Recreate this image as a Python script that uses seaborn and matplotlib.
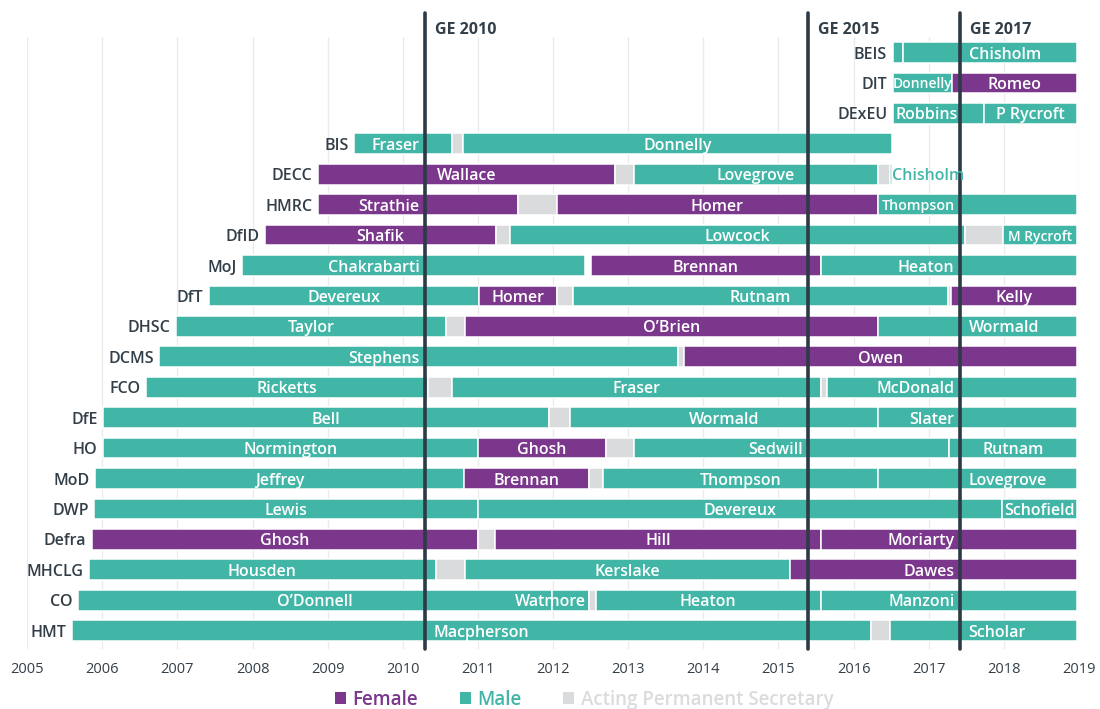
import numpy as np
import pandas as pd
import matplotlib
matplotlib.use("Agg")
import matplotlib.pyplot as plt
import seaborn as sns
from matplotlib.patches import Patch
from matplotlib.transforms import blended_transform_factory

# ---------------- data ----------------
depts = ["BEIS", "DIT", "DExEU", "BIS", "DECC", "HMRC", "DfID", "MoJ", "DfT", "DHSC",
         "DCMS", "FCO", "DfE", "HO", "MoD", "DWP", "Defra", "MHCLG", "CO", "HMT"]

seg_dept = (["BEIS"] * 2 + ["DIT"] * 2 + ["DExEU"] * 2 + ["BIS"] * 3 + ["DECC"] * 5 +
            ["HMRC"] * 4 + ["DfID"] * 5 + ["MoJ"] * 3 + ["DfT"] * 6 + ["DHSC"] * 4 +
            ["DCMS"] * 3 + ["FCO"] * 5 + ["DfE"] * 4 + ["HO"] * 5 + ["MoD"] * 5 +
            ["DWP"] * 3 + ["Defra"] * 4 + ["MHCLG"] * 4 + ["CO"] * 5 + ["HMT"] * 3)

seg_name = ["", "Chisholm",
            "Donnelly", "Romeo",
            "Robbins", "P Rycroft",
            "Fraser", "", "Donnelly",
            "Wallace", "", "Lovegrove", "", "Chisholm",
            "Strathie", "", "Homer", "Thompson",
            "Shafik", "", "Lowcock", "", "M Rycroft",
            "Chakrabarti", "Brennan", "Heaton",
            "Devereux", "Homer", "", "Rutnam", "", "Kelly",
            "Taylor", "", "O\u2019Brien", "Wormald",
            "Stephens", "", "Owen",
            "Ricketts", "", "Fraser", "", "McDonald",
            "Bell", "", "Wormald", "Slater",
            "Normington", "Ghosh", "", "Sedwill", "Rutnam",
            "Jeffrey", "Brennan", "", "Thompson", "Lovegrove",
            "Lewis", "Devereux", "Schofield",
            "Ghosh", "", "Hill", "Moriarty",
            "Housden", "", "Kerslake", "Dawes",
            "O\u2019Donnell", "Watmore", "", "Heaton", "Manzoni",
            "Macpherson", "", "Scholar"]

# F = female, M = male, A = acting permanent secretary
seg_kind = ["M", "M",
            "M", "F",
            "M", "M",
            "M", "A", "M",
            "F", "A", "M", "A", "M",
            "F", "A", "F", "M",
            "F", "A", "M", "A", "M",
            "M", "F", "M",
            "M", "F", "A", "M", "A", "F",
            "M", "A", "F", "M",
            "M", "A", "F",
            "M", "A", "M", "A", "M",
            "M", "A", "M", "M",
            "M", "F", "A", "M", "M",
            "M", "F", "A", "M", "M",
            "M", "M", "M",
            "F", "A", "F", "F",
            "M", "A", "M", "F",
            "M", "M", "A", "M", "M",
            "M", "A", "M"]

seg_start = [2016.52, 2016.66,
             2016.52, 2017.31,
             2016.52, 2017.73,
             2009.35, 2010.66, 2010.80,
             2008.87, 2012.83, 2013.08, 2016.32, 2016.49,
             2008.87, 2011.53, 2012.05, 2016.32,
             2008.17, 2011.24, 2011.43, 2017.48, 2017.99,
             2007.86, 2012.50, 2015.56,
             2007.42, 2011.02, 2012.05, 2012.27, 2017.25, 2017.29,
             2006.98, 2010.57, 2010.83, 2016.32,
             2006.76, 2013.66, 2013.74,
             2006.58, 2010.34, 2010.65, 2015.56, 2015.65,
             2006.01, 2011.95, 2012.22, 2016.33,
             2006.01, 2011.00, 2012.70, 2013.08, 2017.27,
             2005.90, 2010.82, 2012.48, 2012.67, 2016.32,
             2005.89, 2011.00, 2017.98,
             2005.86, 2011.00, 2011.23, 2015.56,
             2005.82, 2010.44, 2010.83, 2015.15,
             2005.68, 2011.99, 2012.48, 2012.57, 2015.56,
             2005.60, 2016.23, 2016.48]

seg_end = [2016.66, 2018.97,
           2017.31, 2018.97,
           2017.73, 2018.97,
           2010.66, 2010.80, 2016.51,
           2012.83, 2013.08, 2016.32, 2016.49, 2016.51,
           2011.53, 2012.05, 2016.32, 2018.97,
           2011.24, 2011.43, 2017.48, 2017.99, 2018.97,
           2012.43, 2015.56, 2018.97,
           2011.02, 2012.05, 2012.27, 2017.25, 2017.29, 2018.97,
           2010.57, 2010.83, 2016.32, 2018.97,
           2013.66, 2013.74, 2018.97,
           2010.34, 2010.65, 2015.56, 2015.65, 2018.97,
           2011.95, 2012.22, 2016.33, 2018.97,
           2011.00, 2012.70, 2013.08, 2017.27, 2018.97,
           2010.82, 2012.48, 2012.67, 2016.32, 2018.97,
           2011.00, 2017.98, 2018.97,
           2011.00, 2011.23, 2015.56, 2018.97,
           2010.44, 2010.83, 2015.15, 2018.97,
           2011.99, 2012.48, 2012.57, 2015.56, 2018.97,
           2016.23, 2016.48, 2018.97]

ge_labels = ["GE 2010", "GE 2015", "GE 2017"]
ge_years = [2010.29, 2015.39, 2017.41]
year_ticks = list(range(2005, 2020))
legend_labels = ["Female", "Male", "Acting Permanent Secretary"]
legend_kinds = ["F", "M", "A"]

# ---------------- styling ----------------
sns.set_theme(style="white")
plt.rcParams['font.family'] = ['Open Sans', 'DejaVu Sans']

PURPLE = "#7B378C"
TEAL = "#41B6A7"
GREY = "#DADBDC"
DARK = "#333F48"
LINE = "#2E3A45"
palette = {"F": PURPLE, "M": TEAL, "A": GREY}

small_labels = {("DIT", "Donnelly"): 10, ("DfID", "M Rycroft"): 10, ("HMRC", "Thompson"): 10.3}
side_override = {("HMRC", "Thompson"): "left", ("DfE", "Slater"): "left"}
LABEL_FS = 11.5
LABEL_WEIGHT = "semibold"

df = pd.DataFrame({"dept": seg_dept, "name": seg_name, "kind": seg_kind,
                   "start": seg_start, "end": seg_end})
df["row"] = df["dept"].map({d: i for i, d in enumerate(depts)})
df["dur"] = df["end"] - df["start"]

W, H = 1100, 709
fig = plt.figure(figsize=(W / 100, H / 100), dpi=100)
ax = fig.add_axes([27.2 / W, 1 - 649.4 / H, (1079 - 27.2) / W, 612.4 / H])

ax.barh(df["row"], df["dur"], left=df["start"], height=0.68,
        color=df["kind"].map(palette), edgecolor="white", linewidth=1.1, zorder=3)

ax.set_xlim(2005, 2019)
ax.set_ylim(19.615, -0.51)
ax.set_xticks(year_ticks)
ax.set_xticklabels([str(y) for y in year_ticks])
ax.set_yticks([])
ax.grid(axis="x", color="#EBEBEB", linewidth=1, zorder=0)
ax.grid(axis="y", visible=False)
ax.set_axisbelow(True)
for s in ax.spines.values():
    s.set_visible(False)
ax.tick_params(axis="x", length=0, pad=9, labelsize=10.5, labelcolor=DARK)

# general election lines
fig_tr = blended_transform_factory(ax.transData, fig.transFigure)
ppy = ax.bbox.width / (2019 - 2005)
for g, lab in zip(ge_years, ge_labels):
    ax.axvline(g, ymin=0.0, ymax=1.039, color=LINE, lw=2.6, clip_on=False, zorder=5)
    ax.text(g + 10 / ppy, 1 - 28 / H, lab, transform=fig_tr, ha="left", va="center_baseline",
            fontsize=11.5, fontweight="bold", color=DARK)

# department labels
for d, grp in df.groupby("dept", sort=False):
    first = grp["start"].min()
    ax.annotate(d, xy=(first, grp["row"].iloc[0]), xytext=(-4, 0),
                textcoords="offset points", ha="right", va="center_baseline",
                fontsize=11.5, fontweight="semibold", color=DARK)

# name labels inside bars
fig.canvas.draw()
renderer = fig.canvas.get_renderer()


def text_w(s, fs):
    t = ax.text(0, 0, s, fontsize=fs, fontweight=LABEL_WEIGHT)
    w = t.get_window_extent(renderer).width / ppy
    t.remove()
    return w


edge = 3 / ppy
pad_left = 5 / ppy
pad_right = 9 / ppy
for d, grp in df.groupby("dept", sort=False):
    grp = grp.sort_values("start")
    last_idx = grp.index[-1]
    for idx, r in grp.iterrows():
        if not r["name"]:
            continue
        fs = small_labels.get((d, r["name"]), LABEL_FS)
        w = text_w(r["name"], fs)
        segw = r["end"] - r["start"]
        if w > segw + 2 / ppy:
            if idx == last_idx and r["end"] < 2018.5:
                ax.text(r["start"] + 2 / ppy, r["row"], r["name"], ha="left",
                        va="center_baseline", fontsize=fs, fontweight=LABEL_WEIGHT,
                        color=palette[r["kind"]], zorder=6)
                continue
            cx = r["end"] - edge - w / 2
        else:
            cx = (r["start"] + r["end"]) / 2
            for g in ge_years:
                if cx - w / 2 - pad_left < g < cx + w / 2 + pad_left:
                    left_room = g - r["start"]
                    right_room = r["end"] - g
                    side = side_override.get((d, r["name"]),
                                             "left" if left_room >= right_room else "right")
                    if side == "left":
                        cx = max(g - pad_left - w / 2, r["start"] + edge + w / 2)
                    else:
                        cx = min(g + pad_right + w / 2, r["end"] - edge - w / 2)
        ax.text(cx, r["row"], r["name"], ha="center", va="center_baseline", fontsize=fs,
                fontweight=LABEL_WEIGHT, color="white", zorder=6)

# legend
handles = [Patch(facecolor=palette[k], edgecolor="none") for k in legend_kinds]
leg = fig.legend(handles, legend_labels, loc="center", bbox_to_anchor=(0.531, 1 - 700 / H),
                 ncol=3, frameon=False, handlelength=0.6, handleheight=0.6,
                 handletextpad=0.35, columnspacing=2.2,
                 prop={"size": 13.5, "weight": "semibold"})
for txt, k in zip(leg.get_texts(), legend_kinds):
    txt.set_color(palette[k])

fig.savefig("out.png", dpi=100)
